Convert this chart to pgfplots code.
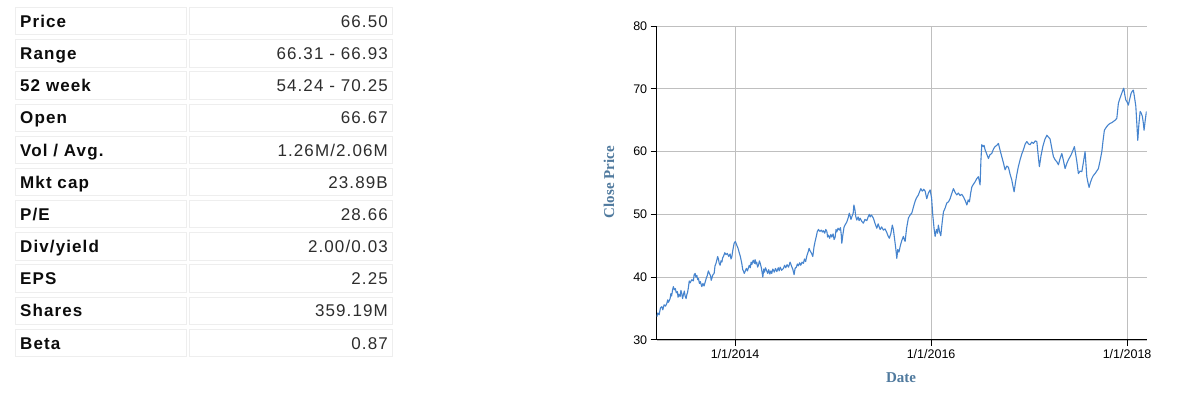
\documentclass[border=0pt]{standalone}
\usepackage{fontspec}
\setmainfont{Liberation Sans}
\newfontfamily\tabfont[LetterSpace=6.5]{Liberation Sans}
\newfontfamily\labfont{Liberation Serif}
\usepackage{pgfplots}
\pgfplotsset{compat=1.18}
\definecolor{linecol}{RGB}{70,132,206}
\definecolor{labcol}{RGB}{80,122,158}
\definecolor{cellline}{RGB}{238,238,238}
\definecolor{valcol}{RGB}{45,45,45}
\definecolor{keycol}{RGB}{12,12,12}
\newcommand\tabrow[3]{%
  \pgfmathsetmacro\cy{399-(21.2+32.18*#1)}%
  \pgfmathsetmacro\ctop{\cy+13.7}%
  \pgfmathsetmacro\cbot{\cy-13.7}%
  \pgfmathsetmacro\cbase{\cy-6.1}%
  \draw[cellline, line width=1pt] (15.5pt,\cbot pt) rectangle (186pt,\ctop pt);
  \draw[cellline, line width=1pt] (189pt,\cbot pt) rectangle (392pt,\ctop pt);
  \node[anchor=base west, inner sep=0pt, text=keycol] at (20pt,\cbase pt) {\tabfont\bfseries\fontsize{17}{20}\selectfont #2};
  \node[anchor=base east, inner sep=0pt, text=valcol] at (388pt,\cbase pt) {\tabfont\fontsize{17}{20}\selectfont #3};
}
\begin{document}
\begin{tikzpicture}
\useasboundingbox (0,0) rectangle (1184pt,399pt);
\fill[white] (0,0) rectangle (1184pt,399pt);
\tabrow{0}{Price}{66.50}
\tabrow{1}{Range}{66.31 - 66.93}
\tabrow{2}{52 week}{54.24 - 70.25}
\tabrow{3}{Open}{66.67}
\tabrow{4}{Vol / Avg.}{1.26M/2.06M}
\tabrow{5}{Mkt cap}{23.89B}
\tabrow{6}{P/E}{28.66}
\tabrow{7}{Div/yield}{2.00/0.03}
\tabrow{8}{EPS}{2.25}
\tabrow{9}{Shares}{359.19M}
\tabrow{10}{Beta}{0.87}
\begin{axis}[
  at={(656.7pt,59pt)}, anchor=south west,
  scale only axis, width=490pt, height=314pt,
  xmin=2013.2, xmax=2018.2, ymin=30, ymax=80,
  enlargelimits=false,
  axis x line*=bottom, axis y line*=left,
  axis line style={black, line width=1pt},
  xtick={2014,2016,2018},
  xticklabels={1/1/2014,1/1/2016,1/1/2018},
  ytick={30,40,50,60,70,80},
  grid=major,
  major grid style={gray!50, line width=0.8pt},
  tick align=outside, major tick length=6pt,
  tick style={black, line width=1pt},
  tick label style={font=\fontsize{12.5}{14}\selectfont, text=black},
  /pgf/number format/assume math mode=true,
]
\addplot[color=linecol, line width=1.1pt, line join=round, mark=none] coordinates {
(2013.201,33.7) (2013.212,34.3) (2013.225,34.0) (2013.238,35.1) (2013.252,35.3) (2013.262,34.8) (2013.275,35.6) (2013.290,35.4) (2013.303,35.8) (2013.312,36.4) (2013.320,36.0)
(2013.337,36.6) (2013.345,37.4) (2013.352,37.0) (2013.362,38.0) (2013.370,38.5) (2013.380,38.0) (2013.390,38.2) (2013.400,37.5) (2013.411,37.7) (2013.418,36.8) (2013.425,37.3)
(2013.439,36.9) (2013.447,37.9) (2013.455,37.4) (2013.464,36.6) (2013.472,37.2) (2013.482,37.8) (2013.490,37.0) (2013.500,36.6) (2013.507,37.2) (2013.515,37.6) (2013.523,38.3)
(2013.532,39.4) (2013.541,39.1) (2013.558,39.6) (2013.574,39.4) (2013.582,40.4) (2013.592,40.6) (2013.600,40.0) (2013.610,40.3) (2013.618,39.6) (2013.626,39.8) (2013.636,39.0) (2013.645,39.3)
(2013.660,38.5) (2013.672,39.0) (2013.683,38.6) (2013.694,39.2) (2013.705,39.8) (2013.717,40.3) (2013.727,41.0) (2013.738,40.6) (2013.750,40.2) (2013.756,39.5) (2013.762,39.8)
(2013.774,40.4) (2013.786,40.6) (2013.795,41.8) (2013.805,42.2) (2013.813,42.7) (2013.822,43.3) (2013.830,42.9) (2013.838,42.2) (2013.847,41.9) (2013.856,42.6) (2013.865,42.4) (2013.873,43.1)
(2013.881,43.3) (2013.895,43.9) (2013.907,43.6) (2013.920,43.8) (2013.935,43.3) (2013.949,43.7) (2013.958,42.9) (2013.966,43.2) (2013.978,44.4) (2013.990,45.4) (2014.002,45.7) (2014.017,45.1)
(2014.030,44.6) (2014.044,43.8) (2014.055,43.2) (2014.068,42.2) (2014.078,41.2) (2014.085,41.0) (2014.093,40.6) (2014.102,40.9) (2014.115,41.4) (2014.126,41.0) (2014.136,41.5) (2014.145,41.9) (2014.155,41.5)
(2014.163,42.4) (2014.170,42.0) (2014.185,42.7) (2014.197,42.2) (2014.204,42.8) (2014.212,42.1) (2014.220,42.4) (2014.230,41.6) (2014.238,41.9) (2014.248,42.6) (2014.255,42.3) (2014.268,41.5) (2014.283,40.0)
(2014.292,41.3) (2014.300,40.8) (2014.310,41.5) (2014.323,41.0) (2014.333,40.6) (2014.343,41.2) (2014.355,40.5) (2014.365,41.0) (2014.374,40.6) (2014.385,41.3) (2014.400,40.8) (2014.412,41.4) (2014.426,40.9)
(2014.440,41.5) (2014.450,41.0) (2014.460,41.6) (2014.475,41.1) (2014.493,41.4) (2014.505,41.9) (2014.517,41.5) (2014.530,42.0) (2014.545,41.6) (2014.561,42.4) (2014.575,41.8) (2014.590,41.2) (2014.602,40.4) (2014.612,41.4) (2014.625,41.6)
(2014.635,42.1) (2014.646,41.8) (2014.658,42.3) (2014.670,41.9) (2014.683,42.4) (2014.697,42.2) (2014.708,42.9) (2014.720,42.5) (2014.732,43.4) (2014.745,44.0) (2014.755,44.6) (2014.765,44.2) (2014.780,43.8) (2014.793,43.3)
(2014.805,44.8) (2014.815,45.6) (2014.827,46.4) (2014.838,47.2) (2014.850,47.6) (2014.865,47.3) (2014.880,47.5) (2014.890,47.2) (2014.901,47.4) (2014.915,47.0) (2014.925,47.6) (2014.936,47.3) (2014.944,46.4) (2014.952,46.7) (2014.965,46.2) (2014.977,46.8) (2014.987,46.4)
(2015.000,46.9) (2015.010,46.0) (2015.020,46.3) (2015.030,47.6) (2015.038,47.2) (2015.050,47.8) (2015.064,47.5) (2015.075,47.9) (2015.083,46.8) (2015.089,45.4) (2015.100,46.8) (2015.112,48.0) (2015.125,48.4) (2015.140,48.8)
(2015.155,49.5) (2015.165,50.2) (2015.173,49.8) (2015.182,49.2) (2015.191,49.6) (2015.205,50.2) (2015.212,51.5) (2015.222,50.8) (2015.232,49.6) (2015.242,49.1) (2015.255,49.6) (2015.265,49.0) (2015.276,49.4) (2015.292,48.9) (2015.309,48.6)
(2015.325,49.2) (2015.344,49.0) (2015.360,49.7) (2015.370,50.0) (2015.378,49.6) (2015.392,49.9) (2015.411,49.4) (2015.425,48.7) (2015.436,48.2) (2015.446,47.8) (2015.460,48.5) (2015.470,48.0) (2015.480,47.6) (2015.495,48.0) (2015.513,47.5)
(2015.530,47.7) (2015.548,47.1) (2015.560,46.6) (2015.574,46.2) (2015.590,47.0) (2015.604,48.3) (2015.615,47.6) (2015.628,46.0) (2015.640,44.5) (2015.650,43.0) (2015.660,44.4) (2015.672,44.0) (2015.684,44.9) (2015.700,45.8) (2015.717,46.5)
(2015.726,46.0) (2015.735,45.7) (2015.750,47.8) (2015.768,49.4) (2015.785,49.9) (2015.803,50.2) (2015.820,51.2) (2015.837,52.1) (2015.850,52.6) (2015.870,53.1) (2015.882,53.6) (2015.895,54.1) (2015.910,53.7) (2015.925,54.0)
(2015.939,53.7) (2015.956,52.5) (2015.972,53.4) (2015.990,53.9) (2016.005,52.6) (2016.017,49.9) (2016.030,47.8) (2016.041,46.5) (2016.055,47.6) (2016.066,47.0) (2016.074,48.3) (2016.087,47.2) (2016.099,46.6) (2016.112,48.6)
(2016.126,50.4) (2016.143,51.0) (2016.160,51.8) (2016.177,52.0) (2016.194,52.5) (2016.210,53.3) (2016.228,54.1) (2016.245,53.5) (2016.262,53.1) (2016.278,53.4) (2016.296,53.0)
(2016.313,53.2) (2016.330,52.8) (2016.348,52.2) (2016.365,51.5) (2016.378,52.3) (2016.391,52.0) (2016.404,53.4) (2016.416,54.4) (2016.432,54.8) (2016.449,55.2) (2016.466,55.7)
(2016.483,56.0) (2016.493,55.2) (2016.500,54.7) (2016.508,58.5) (2016.517,61.1) (2016.530,60.8) (2016.540,61.0) (2016.551,60.3) (2016.568,59.6) (2016.585,58.9) (2016.600,59.5) (2016.619,59.7)
(2016.636,60.4) (2016.653,60.8) (2016.670,61.0) (2016.687,61.3) (2016.704,60.2) (2016.721,59.2) (2016.738,58.2) (2016.755,57.1) (2016.772,57.7) (2016.789,57.5) (2016.806,56.4) (2016.823,55.5)
(2016.835,54.5) (2016.847,53.6) (2016.860,55.0) (2016.874,56.3) (2016.890,57.6) (2016.908,58.7) (2016.925,59.6) (2016.942,60.3) (2016.960,61.2) (2016.977,61.6) (2016.995,61.2) (2017.010,61.1)
(2017.027,61.5) (2017.044,61.3) (2017.062,61.7) (2017.079,61.6) (2017.092,59.5) (2017.105,57.6) (2017.122,59.4) (2017.140,60.8) (2017.160,61.9) (2017.181,62.6) (2017.198,62.3) (2017.214,62.0)
(2017.232,60.5) (2017.248,59.2) (2017.265,58.7) (2017.282,58.4) (2017.299,57.9) (2017.316,58.9) (2017.334,59.7) (2017.350,58.6) (2017.367,57.3) (2017.384,58.1) (2017.401,58.7)
(2017.415,59.1) (2017.429,59.5) (2017.445,60.1) (2017.462,60.8) (2017.475,59.6) (2017.487,58.4) (2017.503,56.5) (2017.520,56.9) (2017.538,56.8) (2017.555,58.4) (2017.571,60.0)
(2017.580,58.0) (2017.589,56.0) (2017.600,55.1) (2017.612,54.3) (2017.626,55.1) (2017.640,55.7) (2017.656,56.2) (2017.673,56.5) (2017.690,56.9) (2017.707,57.3) (2017.725,58.6) (2017.742,60.0)
(2017.755,61.8) (2017.768,63.4) (2017.780,63.7) (2017.793,64.0) (2017.810,64.3) (2017.827,64.5) (2017.843,64.6) (2017.860,64.8) (2017.878,65.0) (2017.895,65.3) (2017.911,67.7)
(2017.925,68.4) (2017.939,69.0) (2017.952,69.6) (2017.966,70.1) (2017.977,69.0) (2017.987,68.2) (2018.000,67.9) (2018.013,67.4) (2018.027,68.4) (2018.041,69.3) (2018.052,69.6) (2018.064,69.8)
(2018.076,68.6) (2018.089,67.2) (2018.099,64.5) (2018.109,61.8) (2018.120,64.3) (2018.133,66.4) (2018.145,66.1) (2018.156,65.6) (2018.165,64.6) (2018.173,63.4) (2018.185,65.0) (2018.197,66.4)
};
\end{axis}
\node[rotate=90, text=labcol, inner sep=0pt] at (609pt,217pt) {\labfont\bfseries\fontsize{15}{18}\selectfont Close Price};
\node[text=labcol, inner sep=0pt] at (901pt,21pt) {\labfont\bfseries\fontsize{15}{18}\selectfont Date};
\end{tikzpicture}
\end{document}
